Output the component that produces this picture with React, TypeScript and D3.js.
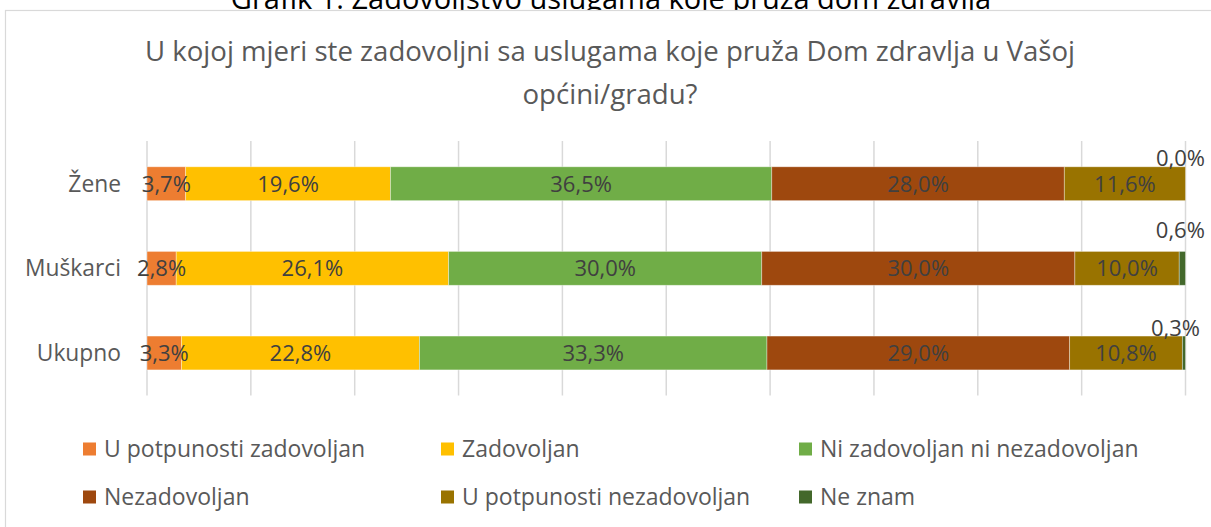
import React from "react";
import * as d3 from "d3";

const categories = ["Žene", "Muškarci", "Ukupno"];
const seriesNames = [
  "U potpunosti zadovoljan",
  "Zadovoljan",
  "Ni zadovoljan ni nezadovoljan",
  "Nezadovoljan",
  "U potpunosti nezadovoljan",
  "Ne znam",
];
const seriesColors = ["#ED7D31", "#FFC000", "#70AD47", "#9E480E", "#997300", "#43682B"];
// values in %, per category (rows) and series (columns)
const zeneValues = [3.7, 19.6, 36.5, 28.0, 11.6, 0.0];
const muskarciValues = [2.8, 26.1, 30.0, 30.0, 10.0, 0.6];
const ukupnoValues = [3.3, 22.8, 33.3, 29.0, 10.8, 0.3];
const xTicks = [0, 10, 20, 30, 40, 50, 60, 70, 80, 90, 100];
const chartTitle = ["U kojoj mjeri ste zadovoljni sa uslugama koje pruža Dom zdravlja u Vašoj", "općini/gradu?"];
const pageCaption = "Grafik 1. Zadovoljstvo uslugama koje pruža dom zdravlja";

// label placement for the small last-series labels drawn above the bars
const outsideLabelShift = [
  { dx: -5, dy: -1 },
  { dx: -2, dy: -13.5 },
  { dx: -8.5, dy: 0 },
];

const W = 1211;
const H = 527;
const FONT = "'Open Sans', 'DejaVu Sans', sans-serif";

export default function App() {
  const valuesByCat = [zeneValues, muskarciValues, ukupnoValues];
  const rows = categories.map((c, i) => {
    const r: any = { cat: c };
    seriesNames.forEach((s, j) => (r[s] = valuesByCat[i][j]));
    return r;
  });
  const stack = d3.stack<any>().keys(seriesNames).offset(d3.stackOffsetExpand);
  const layers = stack(rows);

  const x = d3.scaleLinear().domain([0, 1]).range([147, 1185.5]);
  const y = d3.scaleBand().domain(categories).range([141.4, 395.3]).paddingInner(0.6).paddingOuter(0.3);
  const bw = y.bandwidth();

  const legendCols = d3.scalePoint().domain(["0", "1", "2"]).range([83, 799]);
  const legendRows = d3.scalePoint().domain(["0", "1"]).range([449, 497]);

  const fmt = (v: number) => v.toFixed(1).replace(".", ",") + "%";
  const LABEL = 22;

  return (
    <svg
      width={W}
      height={H}
      style={{ position: "absolute", left: 0, top: 0, background: "#fff" }}
      fontFamily={FONT}
    >
      <text x={611} y={8.5} textAnchor="middle" fontSize={29} fill="#000">
        {pageCaption}
      </text>
      <rect x={5.5} y={10.5} width={W + 20} height={H + 20} fill="#fff" stroke="#d9d9d9" strokeWidth={1.2} />

      {chartTitle.map((t, i) => (
        <text key={i} x={610} y={60.5 + i * 43} textAnchor="middle" fontSize={27.6} fill="#595959">
          {t}
        </text>
      ))}

      {xTicks.map((t) => (
        <line key={t} x1={x(t / 100)} x2={x(t / 100)} y1={141} y2={395.5} stroke="#d9d9d9" strokeWidth={1.5} />
      ))}

      {layers.map((layer, j) => (
        <g key={layer.key}>
          {layer.map((d, i) => (
            <rect
              key={i}
              x={x(d[0])}
              y={y(categories[i])}
              width={Math.max(0, x(d[1]) - x(d[0]))}
              height={bw}
              fill={seriesColors[j]}
              stroke="#ffffff"
              strokeOpacity={0.45}
              strokeWidth={0.8}
            />
          ))}
        </g>
      ))}

      {layers.map((layer, j) =>
        layer.map((d, i) => {
          const v = valuesByCat[i][j];
          const cx = (x(d[0]) + x(d[1])) / 2;
          const top = y(categories[i])!;
          if (j === seriesNames.length - 1) {
            const s = outsideLabelShift[i];
            return (
              <text key={`${j}-${i}`} x={cx + s.dx} y={top + s.dy} textAnchor="middle" fontSize={LABEL} fill="#404040">
                {fmt(v)}
              </text>
            );
          }
          return (
            <text key={`${j}-${i}`} x={cx} y={top + bw / 2 + 8} textAnchor="middle" fontSize={LABEL} fill="#404040">
              {fmt(v)}
            </text>
          );
        })
      )}

      {categories.map((c) => (
        <text key={c} x={121} y={y(c)! + bw / 2 + 8} textAnchor="end" fontSize={22.8} fill="#595959">
          {c}
        </text>
      ))}

      {seriesNames.map((s, k) => {
        const lx = legendCols(String(k % 3))!;
        const ly = legendRows(String(Math.floor(k / 3)))!;
        return (
          <g key={s}>
            <rect x={lx} y={ly - 6.5} width={13} height={13} fill={seriesColors[k]} />
            <text x={lx + 21} y={ly + 8} fontSize={23} fill="#595959">
              {s}
            </text>
          </g>
        );
      })}
    </svg>
  );
}
